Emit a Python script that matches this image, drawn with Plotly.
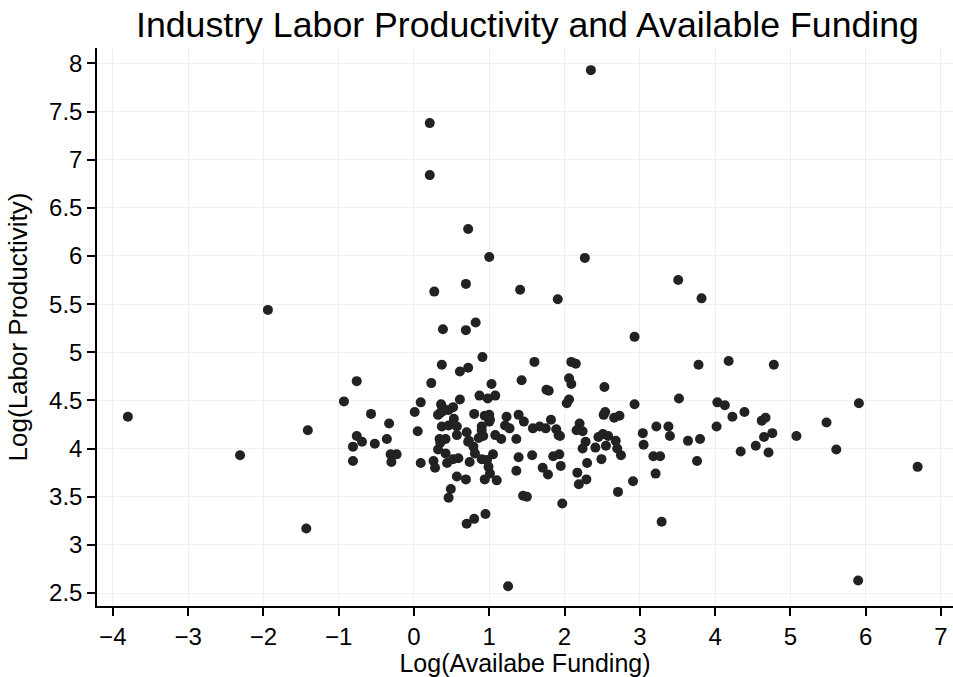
import plotly.graph_objects as go

log_funding = [
    -3.80, -2.31, -1.94, -1.41, -1.43, -0.93, -0.76, -0.57, -0.76, -0.69,
    -0.81, -0.52, -0.81, -0.33, -0.36, -0.31, -0.23, -0.30, 0.27, 0.69,
    1.41, 0.385, 0.69, 0.82, 0.91, 0.37, 0.61, 0.72, 0.23, 1.03,
    1.43, 0.09, 0.61, 0.87, 0.98, 1.08, 0.01, 0.37, 0.52, 0.32,
    0.53, 0.80, 0.94, 1.00, 1.00, 1.23, 1.39, 1.46, 0.05, 0.37,
    0.46, 0.57, 0.90, 1.21, 1.27, 0.46, 0.35, 0.39, 0.34, 0.42,
    0.57, 0.70, 0.73, 0.86, 1.76, 1.79, 2.06, 2.03, 2.06, 1.01,
    0.90, 0.92, 1.58, 1.67, 1.75, 1.82, 1.89, 1.92, 1.08, 1.16,
    1.36, 2.93, 3.78, 1.60, 2.09, 2.15, 2.09, 2.53, 2.93, 3.52,
    2.54, 2.52, 2.66, 2.73, 2.20, 2.16, 2.24, 2.45, 2.51, 2.58,
    2.68, 2.28, 2.24, 2.41, 2.55, 2.70, 2.75, 3.04, 3.05, 3.22,
    3.38, 3.40, 3.64, 3.80, 3.76, 3.18, 3.27, 3.21, 2.91, 2.71,
    3.29, 1.97, 1.45, 1.50, 2.49, 2.30, 2.17, 2.29, 2.19, 1.39,
    1.57, 1.85, 1.93, 1.36, 1.71, 1.78, 1.95, 1.94, 4.18, 4.78,
    4.03, 4.13, 4.39, 4.23, 4.62, 4.67, 4.02, 4.76, 4.65, 4.54,
    4.34, 4.71, 5.08, 5.48, 5.61, 5.91, 6.69, 5.90, 2.27, 1.00,
    0.72, 0.21, 0.21, 2.35, 3.51, 1.91, 3.82, 1.25, 0.70, 0.80,
    0.95, 0.49, 0.46, 0.57, 0.69, 0.94, 1.10, 0.09, 0.26, 0.28,
    0.44, 0.52, 0.59, 0.74, 0.90, 0.97, 1.05, 0.99, 1.01, 0.35,
    0.32, 0.42, 0.72, 0.79, 0.81, 0.36,
]

log_productivity = [
    4.33, 3.93, 5.44, 4.19, 3.17, 4.49, 4.70, 4.36, 4.13, 4.07,
    4.02, 4.05, 3.87, 4.26, 4.10, 3.94, 3.94, 3.86, 5.63, 5.71,
    5.65, 5.24, 5.23, 5.31, 4.95, 4.87, 4.80, 4.84, 4.68, 4.67,
    4.71, 4.48, 4.51, 4.55, 4.52, 4.55, 4.38, 4.44, 4.43, 4.35,
    4.31, 4.36, 4.34, 4.35, 4.28, 4.33, 4.35, 4.28, 4.18, 4.23,
    4.24, 4.23, 4.23, 4.24, 4.21, 4.40, 4.37, 4.39, 4.10, 4.10,
    4.14, 4.17, 4.08, 4.11, 4.61, 4.60, 4.73, 4.47, 4.51, 4.30,
    4.19, 4.13, 4.21, 4.23, 4.21, 4.30, 4.20, 4.14, 4.14, 4.10,
    4.10, 5.16, 4.87, 4.90, 4.90, 4.88, 4.67, 4.64, 4.46, 4.52,
    4.38, 4.35, 4.32, 4.34, 4.26, 4.19, 4.18, 4.12, 4.15, 4.13,
    4.08, 4.07, 4.00, 4.01, 4.03, 4.00, 3.93, 4.16, 4.04, 4.23,
    4.23, 4.13, 4.08, 4.10, 3.87, 3.92, 3.92, 3.74, 3.66, 3.55,
    3.24, 3.43, 3.51, 3.50, 3.89, 3.85, 3.75, 3.68, 3.63, 3.91,
    3.93, 3.92, 3.94, 3.77, 3.80, 3.73, 3.82, 4.13, 4.91, 4.87,
    4.48, 4.45, 4.38, 4.33, 4.29, 4.32, 4.23, 4.16, 4.12, 4.03,
    3.97, 3.96, 4.13, 4.27, 3.99, 4.47, 3.81, 2.63, 5.98, 5.99,
    6.28, 7.38, 6.84, 7.93, 5.75, 5.55, 5.56, 2.57, 3.22, 3.27,
    3.32, 3.58, 3.49, 3.71, 3.68, 3.68, 3.67, 3.85, 3.87, 3.80,
    3.85, 3.89, 3.90, 3.86, 3.89, 3.88, 3.94, 3.81, 3.74, 4.06,
    3.99, 3.95, 4.07, 4.02, 3.95, 4.46,
]

x_ticks = [-4, -3, -2, -1, 0, 1, 2, 3, 4, 5, 6, 7]
y_ticks = [2.5, 3, 3.5, 4, 4.5, 5, 5.5, 6, 6.5, 7, 7.5, 8]

fig = go.Figure(go.Scatter(
    x=log_funding, y=log_productivity, mode="markers",
    marker=dict(size=10, color="#222222", line=dict(width=0)),
    showlegend=False,
))

font_family = "Liberation Sans, Arial, sans-serif"
fig.update_layout(
    width=953, height=677,
    margin=dict(l=97, r=0, t=48, b=71),
    paper_bgcolor="white", plot_bgcolor="white",
    font=dict(family=font_family, color="black"),
    title=dict(text="Industry Labor Productivity and Available Funding",
               x=0.5535, xanchor="center", y=0.9631, yanchor="middle",
               font=dict(size=35.7, family=font_family, color="black")),
)
fig.update_xaxes(
    range=[-4.21, 7.16], tickvals=x_ticks,
    ticktext=[("\u2212" + str(-v)) if v < 0 else str(v) for v in x_ticks],
    showgrid=True, gridcolor="#efefef", gridwidth=1, zeroline=False,
    showline=True, linecolor="black", linewidth=1.5,
    ticks="outside", ticklen=8, tickcolor="black", tickwidth=1.5,
    tickfont=dict(size=24),
    title=dict(text="Log(Availabe Funding)", font=dict(size=25), standoff=2),
)
fig.update_yaxes(
    range=[2.365, 8.16], tickvals=y_ticks, ticktext=[f"{v:g}" for v in y_ticks],
    showgrid=True, gridcolor="#efefef", gridwidth=1, zeroline=False,
    showline=True, linecolor="black", linewidth=1.5,
    ticks="outside", ticklen=8, tickcolor="black", tickwidth=1.5,
    tickfont=dict(size=24),
    title=dict(text="Log(Labor Productivity)", font=dict(size=26), standoff=14),
)

fig.write_html(
    "out.html",
    config={"displayModeBar": False},
    post_script="document.body.style.margin='0';document.body.style.overflow='hidden';",
)
